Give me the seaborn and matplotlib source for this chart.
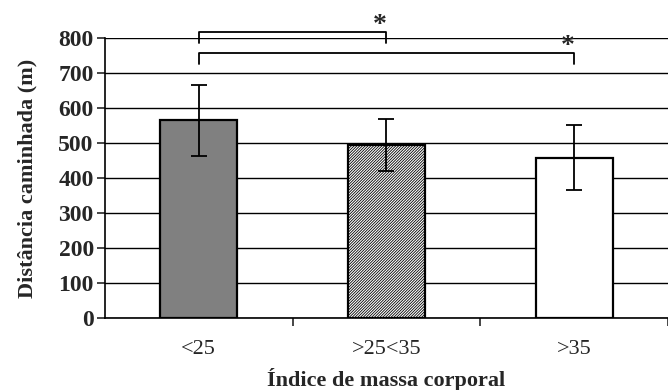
import numpy as np
import pandas as pd
import matplotlib
matplotlib.use("Agg")
import matplotlib.pyplot as plt
import seaborn as sns

categorias = ["<25", ">25<35", ">35"]
distancia = [565, 494, 458]
desvio = [101, 75, 92]
# comparações significativas: (grupo a, grupo b, altura da barra)
comparacoes = [(0, 1, 817), (0, 2, 757)]

df = pd.DataFrame({"imc": categorias, "dist": distancia})

sns.set_style("white")
plt.rcParams["font.family"] = ["Liberation Serif", "DejaVu Serif"]
plt.rcParams["hatch.color"] = "#585858"
plt.rcParams["hatch.linewidth"] = 0.6

fig = plt.figure(figsize=(6.68, 3.90), dpi=100)
ax = fig.add_axes([0.157, 0.1846, 0.843, 0.718])

sns.barplot(data=df, x="imc", y="dist", ax=ax, width=0.41,
            palette=["#808080", "white", "white"], hue="imc", legend=False,
            edgecolor="black", linewidth=1.6, zorder=3)
ax.patches[1].set_hatch("////////////")
ax.patches[1].set_edgecolor("black")

ax.errorbar(range(3), distancia, yerr=desvio, fmt="none", ecolor="black",
            elinewidth=1.3, capsize=6, capthick=1.3, zorder=4)

ax.set_ylim(0, 800)
ax.set_xlim(-0.5, 2.5)
ax.set_yticks(range(0, 801, 100))
ax.yaxis.grid(True, color="black", linewidth=1)
ax.set_axisbelow(True)
for s in ["top", "right"]:
    ax.spines[s].set_visible(False)
for s in ["left", "bottom"]:
    ax.spines[s].set_linewidth(1.2)
    ax.spines[s].set_color("black")

ax.tick_params(axis="y", left=True, length=6, width=1.2, labelsize=17, pad=2)
for t in ax.get_yticklabels():
    t.set_fontweight("bold")
ax.set_xticks([0.5, 1.5, 2.5], minor=True)
ax.tick_params(axis="x", which="major", bottom=False, labelsize=16, pad=12)
ax.tick_params(axis="x", which="minor", bottom=True, length=6, width=1.2)

ax.set_xlabel("Índice de massa corporal", fontsize=16, fontweight="bold", labelpad=7)
ax.set_ylabel("Distância caminhada (m)", fontsize=16, fontweight="bold", labelpad=15)

for a, b, h in comparacoes:
    ax.plot([a, a, b, b], [h - 30, h, h, h - 30], color="black", lw=1.3,
            clip_on=False)
    ax.text(b - 0.035, h - 18, "*", ha="center", va="bottom", fontsize=20,
            fontweight="bold", clip_on=False)

fig.savefig("out.png", dpi=100)
